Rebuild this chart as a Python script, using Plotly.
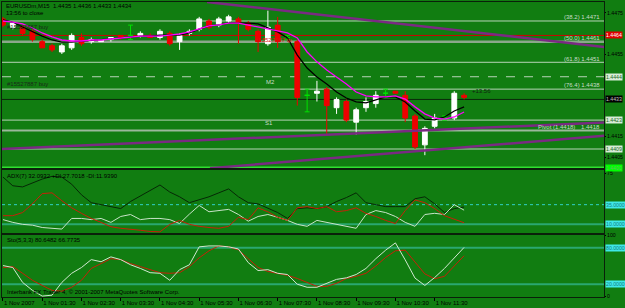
import plotly.graph_objects as go
from plotly.subplots import make_subplots

# ---------------- data ----------------
bar_index = list(range(48))
tick_bars = [0, 4, 8, 12, 16, 20, 24, 28, 32, 36, 40, 44]
tick_labels = ["1 Nov 2007", "1 Nov 01:30", "1 Nov 02:30", "1 Nov 03:30", "1 Nov 04:30",
               "1 Nov 05:30", "1 Nov 06:30", "1 Nov 07:30", "1 Nov 08:30", "1 Nov 09:30",
               "1 Nov 10:30", "1 Nov 11:30"]

opens = [1.4472, 1.4468, 1.4468, 1.4466, 1.4461, 1.4459, 1.4456, 1.4458, 1.4463, 1.4461,
         1.4461, 1.4462, 1.4464, 1.4464, 1.4464, 1.4464, 1.4463, 1.4465, 1.4461, 1.4465,
         1.4467, 1.4471, 1.4469, 1.4471, 1.4472, 1.4470, 1.4466, 1.4460, 1.4469, 1.4463,
         1.4461, 1.4435, 1.4436, 1.4438, 1.4429, 1.4432, 1.4422, 1.4429, 1.4431, 1.4436,
         1.4437, 1.4435, 1.4425, 1.4411, 1.4420, 1.4424, 1.4424, 1.4435]
highs = [1.4473, 1.4471, 1.4469, 1.4467, 1.4462, 1.4460, 1.4460, 1.4465, 1.4465, 1.4463,
         1.4462, 1.4463, 1.4464, 1.4469, 1.4466, 1.4465, 1.4467, 1.4466, 1.4465, 1.4467,
         1.4473, 1.4472, 1.4473, 1.4474, 1.4473, 1.4471, 1.4467, 1.4476, 1.4473, 1.4464,
         1.4462, 1.4438, 1.4442, 1.4439, 1.4434, 1.4433, 1.4429, 1.4434, 1.4437, 1.4438,
         1.4437, 1.4437, 1.4426, 1.4420, 1.4426, 1.4425, 1.4437, 1.4436]
lows = [1.4468, 1.4467, 1.4464, 1.4461, 1.4458, 1.4456, 1.4455, 1.4457, 1.4459, 1.4460,
        1.4461, 1.4461, 1.4462, 1.4462, 1.4463, 1.4463, 1.4462, 1.4459, 1.4457, 1.4464,
        1.4466, 1.4467, 1.4468, 1.4470, 1.4460, 1.4466, 1.4456, 1.4459, 1.4458, 1.4462,
        1.4430, 1.4427, 1.4432, 1.4416, 1.4426, 1.4422, 1.4416, 1.4427, 1.4429, 1.4434,
        1.4436, 1.4422, 1.4409, 1.4406, 1.4419, 1.4423, 1.4423, 1.4433]
closes = [1.4469, 1.4470, 1.4465, 1.4462, 1.4458, 1.4457, 1.4459, 1.4464, 1.4460, 1.4462,
          1.4462, 1.4463, 1.4463, 1.4464, 1.4465, 1.4463, 1.4466, 1.4460, 1.4464, 1.4466,
          1.4472, 1.4468, 1.4472, 1.4473, 1.4470, 1.4467, 1.4461, 1.4468, 1.4461, 1.4463,
          1.4434, 1.4435, 1.4437, 1.4430, 1.4433, 1.4423, 1.4428, 1.4432, 1.4435, 1.4436,
          1.4436, 1.4424, 1.4410, 1.4419, 1.4424, 1.4424, 1.4436, 1.4434]
green_doji_bars = [13, 29, 31, 39, 45]

ma_black = [1.44715, 1.44705, 1.44681, 1.44657, 1.44637, 1.44618, 1.44608, 1.44608, 1.44613, 1.44618,
            1.44620, 1.44623, 1.44628, 1.44633, 1.44637, 1.44637, 1.44642, 1.44642, 1.44642, 1.44652,
            1.44671, 1.44686, 1.44691, 1.44700, 1.44700, 1.44700, 1.44696, 1.44676, 1.44657, 1.44628,
            1.44545, 1.44482, 1.44439, 1.44405, 1.44366, 1.44337, 1.44318, 1.44313, 1.44327, 1.44342,
            1.44342, 1.44318, 1.44274, 1.44235, 1.44231, 1.44245, 1.44274, 1.44294]
ma_magenta = [1.44710, 1.44705, 1.44696, 1.44676, 1.44652, 1.44633, 1.44618, 1.44613, 1.44613, 1.44618,
              1.44618, 1.44623, 1.44628, 1.44633, 1.44637, 1.44637, 1.44637, 1.44642, 1.44647, 1.44657,
              1.44671, 1.44686, 1.44691, 1.44700, 1.44700, 1.44691, 1.44681, 1.44671, 1.44662, 1.44652,
              1.44628, 1.44560, 1.44512, 1.44473, 1.44439, 1.44405, 1.44366, 1.44347, 1.44342, 1.44342,
              1.44347, 1.44332, 1.44294, 1.44260, 1.44240, 1.44235, 1.44245, 1.44269]

# trend lines: (bar, price) end points
trend_bars = [[20.8, 61.3], [-0.3, 61.3], [21.1, 61.3]]
trend_prices = [[1.44802, 1.44584], [1.44089, 1.44219], [1.43997, 1.44154]]

fib_levels = [1.4471, 1.4461, 1.4451, 1.4438]
fib_names = ["(38.2)", "(50.0)", "(61.8)", "(76.4)"]
tp_level = 1.4464
buy_level = 1.4444
bid_level = 1.4433
s1_level = 1.4423
pivot_level = 1.4418
low_level = 1.4409
floor_level = 1.4400
price_ticks = [1.4405, 1.4415, 1.4455, 1.4475]

adx_main = [70, 59, 57.5, 62.5, 67.5, 71, 70, 61, 47.5, 37.5, 35, 32.5, 30, 39, 46, 54, 60, 51, 45, 37.5,
            41, 45, 50, 55, 45, 37.5, 36, 31, 25, 17.5, 30, 31, 30, 32.5, 39, 44, 50, 37.5, 35, 32.5,
            32.5, 32.5, 42.5, 45, 36, 25, 30, 32]
adx_plus = [16, 12.5, 10, 9, 6, 5, 4, 17.5, 17.5, 16, 17.5, 12.5, 20, 22.5, 16, 17.5, 17.5, 16, 11, 23,
            34, 26, 27.5, 29, 22.5, 14, 20, 22.5, 19, 15, 10, 7.5, 15, 12.5, 10, 7.5, 5, 22.5, 27.5, 25,
            20, 12.5, 7.5, 22.5, 24, 22.5, 35, 28]
adx_minus = [21, 21, 25, 36, 49, 50, 40, 31, 24, 17.5, 12.5, 7, 5, 4, 2.5, 1, 0.5, 10, 15, 10,
             7.5, 6, 5, 7.5, 19, 16, 31, 26, 19, 15, 31, 32.5, 30, 32.5, 26, 27.5, 31, 24, 20, 15,
             11, 27.5, 41, 37.5, 30, 21, 16, 12]
adx_levels = [35, 10]

sto_main = [50.7, 47.5, 23, 10, 0.5, 2, 23, 38, 47.5, 60.5, 57, 65, 60.5, 52, 46, 39, 38, 26.5, 44, 52,
            81.5, 83, 83, 81.5, 78, 55.5, 42.5, 44, 38, 36, 20, 15, 15, 21.5, 28, 30.5, 36, 46, 62, 76,
            88, 60, 30, 18, 31, 46, 64, 80.6]
sto_signal = [47.5, 49, 38, 26.5, 18, 10, 8.5, 15, 26.5, 46, 54, 62, 60.5, 54, 49, 44, 39, 38, 39, 49,
              63.5, 75, 83, 81.5, 76.5, 62, 47.5, 41, 38, 34.5, 29.5, 23, 16.5, 16.5, 21.5, 29.5, 33, 38, 50, 64,
              75, 76, 57, 37, 29, 33, 50, 66.8]
sto_levels = [80, 20]

# ---------------- style ----------------
BG = "#117d11"
FONT = "Liberation Sans"
LIGHT = "#b8d4b8"
X_RANGE = [-0.1, 61.26]
MAIN_RANGE = [1.43998, 1.44802]
RFS = 5.2  # right-scale font size

# plot area in pixels
L, T, W, H = 2, 2, 602, 295


def P(xpx, ypx):
    return (xpx - L) / W, 1 - (ypx - T) / H


fig = make_subplots(rows=3, cols=1, shared_xaxes=True, vertical_spacing=0.0)

# trend lines (under candles)
for tb, tp in zip(trend_bars, trend_prices):
    fig.add_trace(go.Scatter(x=tb, y=tp, mode="lines", line=dict(color="#7a2a82", width=2.5),
                             showlegend=False, hoverinfo="skip"), row=1, col=1)

normal = [i not in green_doji_bars for i in bar_index]
fig.add_trace(go.Candlestick(
    x=bar_index,
    open=[o if n else None for o, n in zip(opens, normal)],
    high=[h if n else None for h, n in zip(highs, normal)],
    low=[l if n else None for l, n in zip(lows, normal)],
    close=[c if n else None for c, n in zip(closes, normal)],
    increasing=dict(line=dict(color="#ffffff", width=1), fillcolor="#ffffff"),
    decreasing=dict(line=dict(color="#ee0000", width=1), fillcolor="#ee0000"),
    whiskerwidth=0, showlegend=False, hoverinfo="skip"), row=1, col=1)
fig.add_trace(go.Candlestick(
    x=bar_index,
    open=[o if not n else None for o, n in zip(opens, normal)],
    high=[h if not n else None for h, n in zip(highs, normal)],
    low=[l if not n else None for l, n in zip(lows, normal)],
    close=[c if not n else None for c, n in zip(closes, normal)],
    increasing=dict(line=dict(color="#00e000", width=1), fillcolor="#00e000"),
    decreasing=dict(line=dict(color="#00e000", width=1), fillcolor="#00e000"),
    whiskerwidth=1, showlegend=False, hoverinfo="skip"), row=1, col=1)

fig.add_trace(go.Scatter(x=bar_index, y=ma_black, mode="lines", line=dict(color="#000000", width=1.3),
                         showlegend=False, hoverinfo="skip"), row=1, col=1)
fig.add_trace(go.Scatter(x=bar_index, y=ma_magenta, mode="lines", line=dict(color="#ff00ff", width=1.3),
                         showlegend=False, hoverinfo="skip"), row=1, col=1)

# ADX pane
fig.add_trace(go.Scatter(x=bar_index, y=adx_main, mode="lines", line=dict(color="#062806", width=1),
                         showlegend=False, hoverinfo="skip"), row=2, col=1)
fig.add_trace(go.Scatter(x=bar_index, y=adx_plus, mode="lines", line=dict(color="#c8e4c8", width=1),
                         showlegend=False, hoverinfo="skip"), row=2, col=1)
fig.add_trace(go.Scatter(x=bar_index, y=adx_minus, mode="lines", line=dict(color="#c82008", width=1),
                         showlegend=False, hoverinfo="skip"), row=2, col=1)

# Stochastic pane
fig.add_trace(go.Scatter(x=bar_index, y=sto_signal, mode="lines", line=dict(color="#c82008", width=1),
                         showlegend=False, hoverinfo="skip"), row=3, col=1)
fig.add_trace(go.Scatter(x=bar_index, y=sto_main, mode="lines", line=dict(color="#d0e8d0", width=1),
                         showlegend=False, hoverinfo="skip"), row=3, col=1)

shapes = []


def hline(level, yref, color, width=1, dash="solid"):
    shapes.append(dict(type="line", xref="x domain", x0=0, x1=1, yref=yref, y0=level, y1=level,
                       line=dict(color=color, width=width, dash=dash), layer="below"))


for lv in fib_levels:
    hline(lv, "y", LIGHT, 1)
hline(fib_levels[1], "y", "#8aa88a", 2.5)
hline(tp_level, "y", "#d00000", 1)
hline(buy_level, "y", LIGHT, 1, "dash")
hline(bid_level, "y", "#0a2a0a", 1)
hline(s1_level, "y", LIGHT, 1)
hline(pivot_level, "y", "#9ab89a", 2)
hline(low_level, "y", LIGHT, 1)
hline(floor_level, "y", "#30e030", 2)
hline(adx_levels[0], "y2", "#30d0c8", 1, "dot")
hline(adx_levels[1], "y2", "#2aa870", 2)
for lv in sto_levels:
    hline(lv, "y3", "#2aa870", 2)

ann = []


def text(xpx, ypx, s, color="#000000", anchor="left", size=6):
    x, y = P(xpx, ypx)
    ann.append(dict(x=x, y=y, xref="paper", yref="paper", text=s, showarrow=False,
                    xanchor=anchor, yanchor="middle", font=dict(family=FONT, size=size, color=color)))


text(4, 6, "EURUSDm,M15  %.4f %.4f %.4f %.4f" % (opens[-1], highs[-1], lows[-1], closes[-1]))
text(4, 13, "13:56 to close")
text(5, 27, "#15527887 buy", "#1a2a1a")
text(5, 84, "#15527887 buy", "#1a2a1a")
text(253, 40, "#15527887 tp", "#e01010")
text(264, 82, "M2", "#c8dcc8")
text(263, 123, "S1", "#c8dcc8")
text(470, 91, "+13.56", "#102010")
fib_y = [17, 38, 59, 85]
for lv, nm, yy in zip(fib_levels, fib_names, fib_y):
    text(602, yy, "%s %.4f" % (nm, lv), "#c8dcc8", "right")
text(536, 127, "Pivot (%.4f)" % pivot_level, "#c8dcc8")
text(602, 127, "%.4f" % pivot_level, "#c8dcc8", "right")
text(5, 176, "ADX(7) 32.0932 +DI:27.7018 -DI:11.9390")
text(5, 240, "Sto(5,3,3) 80.6482 66.7735")
text(5, 292, "Interbank FX Trader 4, \u00a9 2001-2007 MetaQuotes Software Corp.")

# right side value boxes


def box(level, yref, s, bg, fg):
    ann.append(dict(x=1, y=level, xref="paper", yref=yref, text=s, showarrow=False,
                    xanchor="left", yanchor="middle", xshift=1, bgcolor=bg, borderpad=0,
                    font=dict(family=FONT, size=RFS, color=fg)))


box(tp_level, "y", "%.4f" % tp_level, "#e00000", "#ffffff")
box(buy_level, "y", "%.4f" % buy_level, "#d8ecd8", "#1a6a1a")
box(bid_level, "y", "%.4f" % bid_level, "#000000", "#c0c0c0")
box(s1_level, "y", "%.4f" % s1_level, "#d8ecd8", "#1a6a1a")
box(low_level, "y", "%.4f" % low_level, "#d8ecd8", "#1a6a1a")
box(floor_level, "y", "%.4f" % floor_level, "#00ff00", "#60c060")
box(adx_levels[0], "y2", "%.4f" % adx_levels[0], "#40e8e8", "#108080")
box(adx_levels[1], "y2", "%.4f" % adx_levels[1], "#40e8e8", "#108080")
for lv in sto_levels:
    box(lv, "y3", "%.4f" % lv, "#40e8e8", "#108080")

axis_common = dict(showgrid=False, zeroline=False, showline=True, mirror=True,
                   linecolor="#0a200a", linewidth=1, automargin=False)
fig.update_xaxes(range=X_RANGE, rangeslider_visible=False, **axis_common)
fig.update_xaxes(showticklabels=False, ticks="", row=1, col=1)
fig.update_xaxes(showticklabels=False, ticks="", row=2, col=1)
fig.update_xaxes(tickmode="array", tickvals=tick_bars, ticktext=tick_labels, ticks="outside",
                 ticklen=3, tickcolor="#000000", ticklabelposition="outside right", tickangle=0,
                 tickfont=dict(family=FONT, size=6, color="#000000"), row=3, col=1)

ytick = dict(side="right", ticks="outside", ticklen=1, tickcolor="#000000",
             tickfont=dict(family=FONT, size=RFS, color="#000000"))
fig.update_yaxes(range=MAIN_RANGE, tickmode="array", tickvals=price_ticks,
                 ticktext=["%.4f" % v for v in price_ticks], row=1, col=1, **ytick, **axis_common)
fig.update_yaxes(range=[-1, 79], tickmode="array", tickvals=[75], ticktext=["75"],
                 row=2, col=1, **ytick, **axis_common)
fig.update_yaxes(range=[-1, 101], tickmode="array", tickvals=[0, 100], ticktext=["0", "100"],
                 row=3, col=1, **ytick, **axis_common)

fig.update_layout(
    width=625, height=308,
    margin=dict(l=L, r=625 - L - W, t=T, b=308 - T - H),
    paper_bgcolor=BG, plot_bgcolor=BG,
    showlegend=False,
    shapes=shapes, annotations=ann,
    yaxis=dict(domain=[0.4373, 1.0]),
    yaxis2=dict(domain=[0.2169, 0.4305]),
    yaxis3=dict(domain=[0.0, 0.2102]),
    font=dict(family=FONT, size=6),
)

fig.write_html("out.html")
